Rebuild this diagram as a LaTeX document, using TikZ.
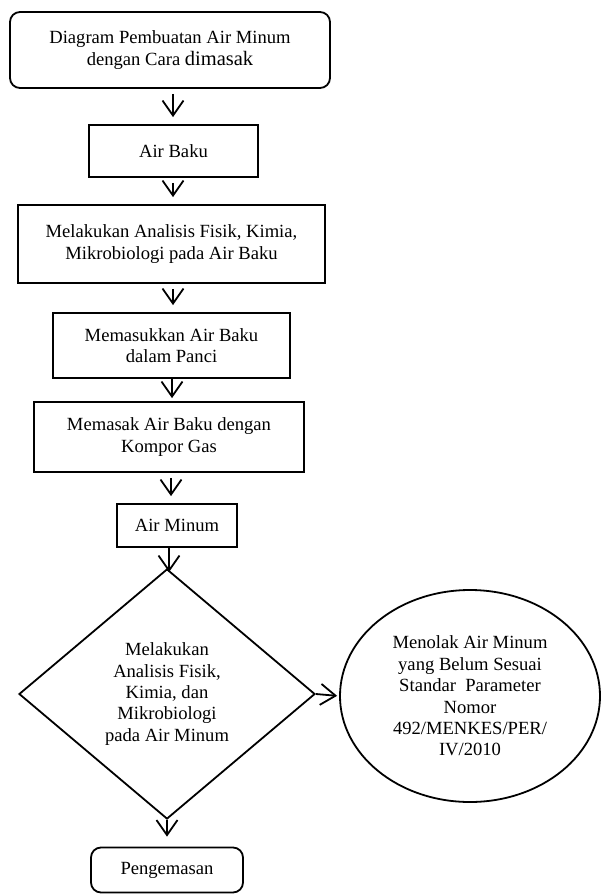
\documentclass[tikz,border=0pt]{standalone}
\usepackage{fontspec}
\setmainfont{Liberation Serif}
\usetikzlibrary{shapes.geometric,arrows.meta}
\begin{document}
\begin{tikzpicture}[x=1pt, y=-1pt,
  box/.style={draw, line width=1.8pt, align=center, inner sep=2pt,
    font=\fontsize{18.6}{21.4}\selectfont},
  arr/.style={line width=1.8pt, -{Straight Barb[length=15pt, width=21pt, line width=1.8pt]},
    shorten <=5pt, shorten >=7pt}]
\useasboundingbox (0,0) rectangle (601,895);
\node[box, rounded corners=10pt, minimum width=320, minimum height=76] (judul) at (170,50)
  {Diagram Pembuatan Air Minum\\dengan Cara {\fontsize{20.5}{21.4}\selectfont dimasak}};
\node[box, minimum width=169, minimum height=52] (airbaku) at (173.5,151) {Air Baku};
\node[box, minimum width=307, minimum height=78] (analisis) at (171.5,244)
  {Melakukan Analisis Fisik, Kimia,\\Mikrobiologi pada Air Baku};
\node[box, minimum width=237, minimum height=65] (panci) at (171.5,345.5)
  {Memasukkan Air Baku\\dalam Panci};
\node[box, minimum width=270, minimum height=70] (kompor) at (169,437)
  {Memasak Air Baku dengan\\Kompor Gas};
\node[box, minimum width=120, minimum height=43] (airminum) at (177,525.5) {Air Minum};
\node[box, diamond, inner sep=0pt, minimum width=296, minimum height=250] (uji) at (167,694)
  {Melakukan\\Analisis Fisik,\\Kimia, dan\\Mikrobiologi\\pada Air Minum};
\node[box, ellipse, inner sep=0pt, minimum width=260, minimum height=212] (tolak) at (470,696)
  {Menolak Air Minum\\yang Belum Sesuai\\Standar\ \ Parameter\\Nomor\\492/MENKES/PER/\\IV/2010};
\node[box, rounded corners=10pt, minimum width=152, minimum height=45] (kemas) at (167,870) {Pengemasan};
% alur
\draw[arr] (judul.south -| 173,0) -- (airbaku.north -| 173,0);
\draw[arr] (airbaku.south -| 173,0) -- (analisis.north -| 173,0);
\draw[arr] (analisis.south -| 173,0) -- (panci.north -| 173,0);
\draw[arr, shorten <=0pt, shorten >=3pt] (panci.south -| 172,0) -- (kompor.north -| 172,0);
\draw[arr] (kompor.south -| 171,0) -- (airminum.north -| 171,0);
\draw[arr, shorten <=0pt, shorten >=-4pt] (airminum.south -| 169,0) -- (uji.north -| 169,0);
\draw[arr, shorten <=0pt, shorten >=2pt] (uji.east) -- (tolak.west);
\draw[arr, shorten <=0pt, shorten >=10pt] (uji.south) -- (kemas.north);
\end{tikzpicture}
\end{document}
